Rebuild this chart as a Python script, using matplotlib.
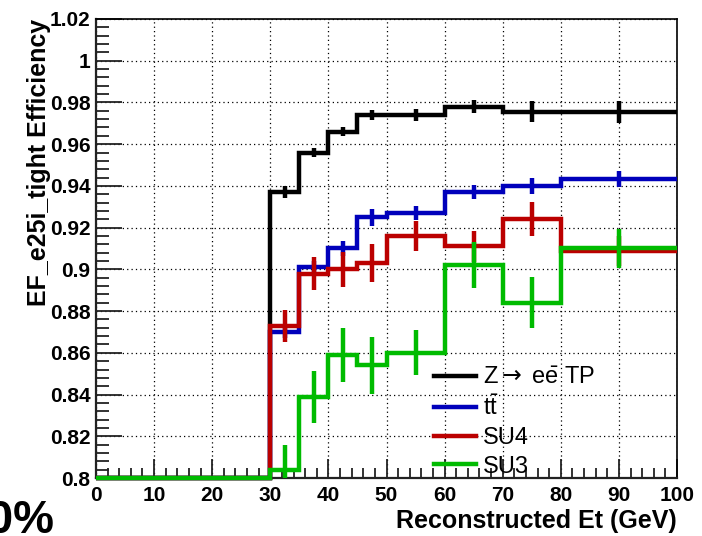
import matplotlib
matplotlib.use("Agg")
import matplotlib.pyplot as plt
from matplotlib.lines import Line2D
from matplotlib.ticker import MultipleLocator
import numpy as np

plt.rcParams['font.family'] = ['Liberation Sans', 'DejaVu Sans']
plt.rcParams['mathtext.fontset'] = 'custom'
plt.rcParams['mathtext.rm'] = 'Liberation Sans'
plt.rcParams['mathtext.it'] = 'Liberation Sans:italic'
plt.rcParams['mathtext.bf'] = 'Liberation Sans:bold'
plt.rcParams['mathtext.sf'] = 'DejaVu Sans'

# bin edges in Et (GeV)
edges = [0, 30, 35, 40, 45, 50, 60, 70, 80, 100]

# efficiency per bin and its error (first bin is empty)
eff_zee = [0.0, 0.937, 0.956, 0.966, 0.974, 0.974, 0.978, 0.9755, 0.9755]
err_zee = [0.0, 0.0029, 0.0022, 0.0022, 0.0026, 0.003, 0.0032, 0.0051, 0.0054]

eff_ttbar = [0.0, 0.870, 0.901, 0.910, 0.925, 0.927, 0.937, 0.940, 0.9435]
err_ttbar = [0.0, 0.003, 0.003, 0.0035, 0.004, 0.0035, 0.0034, 0.004, 0.0038]

eff_su4 = [0.0, 0.873, 0.898, 0.900, 0.903, 0.916, 0.911, 0.924, 0.9088]
err_su4 = [0.0, 0.0077, 0.008, 0.0085, 0.009, 0.007, 0.0075, 0.0082, 0.007]

eff_su3 = [0.0, 0.804, 0.839, 0.859, 0.854, 0.860, 0.902, 0.884, 0.910]
err_su3 = [0.0, 0.012, 0.0125, 0.013, 0.0135, 0.0107, 0.011, 0.0123, 0.0093]

labels = [r'$\mathrm{Z}\mathsf{\rightarrow}$ e$\mathrm{\bar{e}}$ TP', r't$\mathrm{\bar{t}}$', 'SU4', 'SU3']
colors = ['black', '#0000bb', '#bb0000', '#00bb00']

ymin, ymax = 0.8, 1.02

fig = plt.figure(figsize=(7.02, 5.36), dpi=100)
ax = fig.add_axes([96 / 702, 1 - 478 / 536, 581 / 702, 459 / 536])

lw = 3.2
edges = np.array(edges, dtype=float)
centers = 0.5 * (edges[:-1] + edges[1:])
series = [(eff_zee, err_zee), (eff_ttbar, err_ttbar), (eff_su4, err_su4), (eff_su3, err_su3)]
for i, ((vals, errs), col) in enumerate(zip(series, colors)):
    vals = np.array(vals)
    errs = np.array(errs)
    # empty bins sit on the frame bottom
    shown = np.maximum(vals, ymin)
    ax.stairs(shown, edges, baseline=None, color=col, lw=lw, zorder=3 + i,
              clip_on=False)
    filled = vals > 0
    ax.vlines(centers[filled], vals[filled] - errs[filled], vals[filled] + errs[filled],
              color=col, lw=lw, zorder=3 + i)

ax.set_xlim(0, 100)
ax.set_ylim(ymin, ymax)

ax.xaxis.set_major_locator(MultipleLocator(10))
ax.xaxis.set_minor_locator(MultipleLocator(2))
ax.yaxis.set_major_locator(MultipleLocator(0.02))
ax.yaxis.set_minor_locator(MultipleLocator(0.004))
ax.yaxis.set_major_formatter(plt.FuncFormatter(lambda v, p: ('%.2f' % v).rstrip('0').rstrip('.')))

ax.tick_params(axis='both', which='both', direction='in', top=False, right=False,
               width=1.3, color='#222222')
ax.tick_params(axis='x', which='major', length=14, pad=6)
ax.tick_params(axis='x', which='minor', length=7)
ax.tick_params(axis='y', which='major', length=19, pad=4)
ax.tick_params(axis='y', which='minor', length=9)
for lab in ax.get_xticklabels() + ax.get_yticklabels():
    lab.set_fontsize(15)
    lab.set_fontweight('bold')

ax.grid(True, which='major', color='black', linestyle=(0, (1, 2.5)), lw=0.9)
ax.set_axisbelow(True)

for side in ['left', 'bottom']:
    ax.spines[side].set_linewidth(1.6)
    ax.spines[side].set_color('#222222')
for side in ['top', 'right']:
    ax.spines[side].set_linewidth(1.2)
    ax.spines[side].set_color('black')

ax.set_xlabel('Reconstructed Et (GeV)', fontsize=18, fontweight='bold', loc='right')
ax.xaxis.set_label_coords(1.0, -0.068)
ax.set_ylabel('EF_e25i_tight Efficiency', fontsize=18, fontweight='bold', loc='top')
ax.yaxis.set_label_coords(-0.078, 1.0)

handles = [Line2D([0], [0], color=c, lw=lw) for c in colors]
ax.legend(handles, labels, loc='upper left', bbox_to_anchor=(0.565, 0.262),
          frameon=False, fontsize=17, handlelength=1.78, handletextpad=0.3,
          labelspacing=0.28, borderaxespad=0)

fig.text(54 / 702, 3 / 536, '90%', fontsize=33, fontweight='bold', ha='right',
         va='baseline')

fig.savefig('out.png', dpi=100)
